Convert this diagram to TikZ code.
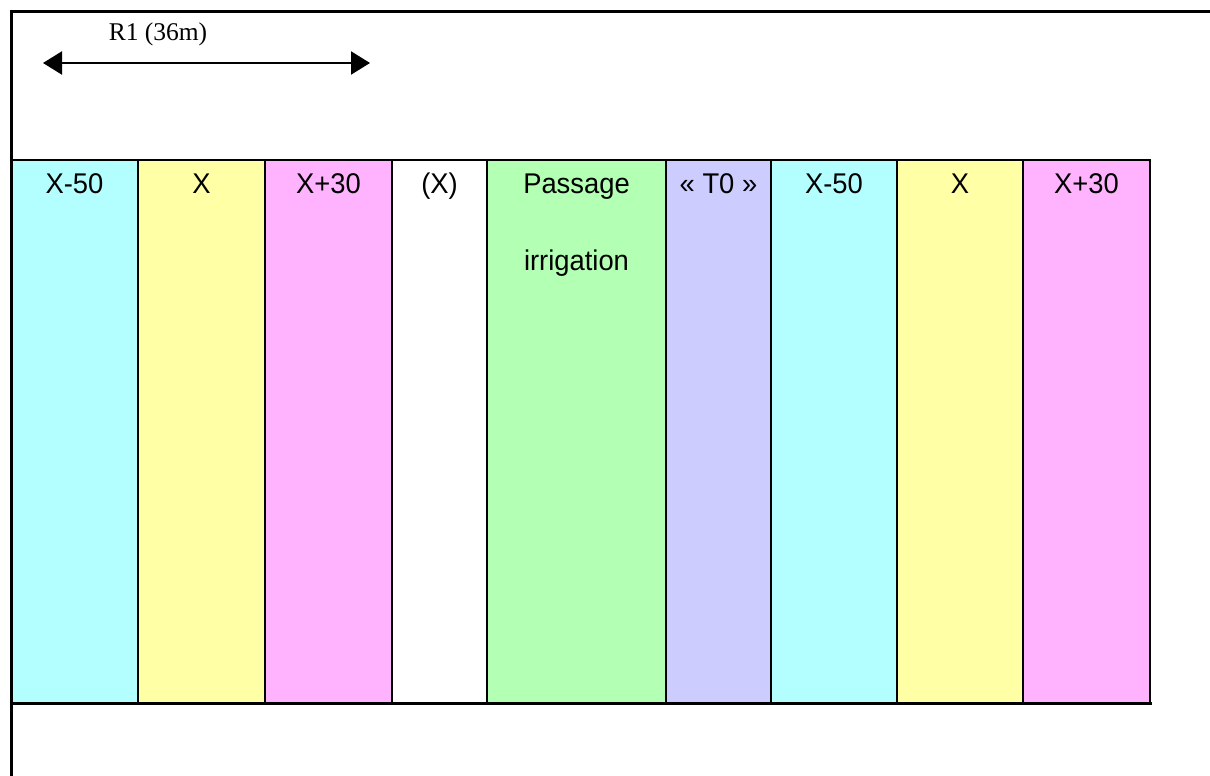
\documentclass[tikz,border=0pt]{standalone}
\usepackage{fontspec}
\setmainfont{Liberation Serif}
\newfontfamily\colfont{Liberation Sans}
\usetikzlibrary{arrows.meta}
\definecolor{ccyan}{HTML}{B3FFFF}
\definecolor{cyel}{HTML}{FFFFA6}
\definecolor{cpink}{HTML}{FFB3FF}
\definecolor{cgreen}{HTML}{B3FFB3}
\definecolor{clav}{HTML}{CCCCFF}
\tikzset{
  colbox/.style={draw=black, line width=1.3pt},
  collabel/.style={font=\colfont\fontsize{28.5}{30}\selectfont, anchor=base, inner sep=0pt, xscale=0.96},
  frameline/.style={line width=3pt, line cap=rect},
}
\begin{document}
\begin{tikzpicture}[x=1pt,y=-1pt]
\useasboundingbox (0,0) rectangle (1210,776);
% columns
\foreach \a/\b/\c/\n in {11/138/ccyan/c1, 138/265/cyel/c2, 265/392/cpink/c3, 392/487/white/c4, 487/666/cgreen/c5, 666/771/clav/c6, 771/897/ccyan/c7, 897/1023/cyel/c8, 1023/1150/cpink/c9}{
  \filldraw[colbox, fill=\c] (\a,160) rectangle (\b,703);
}
\node[collabel] (l1) at (74.5,193) {X-50};
\node[collabel] (l2) at (201.5,193) {X};
\node[collabel] (l3) at (328.5,193) {X+30};
\node[collabel] (l4) at (439.5,193) {(X)};
\node[collabel] (l5) at (576.5,193) {Passage};
\node[collabel] (l5b) at (576.5,270) {irrigation};
\node[collabel] (l6) at (718.5,193) {« T0 »};
\node[collabel] (l7) at (834,193) {X-50};
\node[collabel] (l8) at (960,193) {X};
\node[collabel] (l9) at (1086.5,193) {X+30};
% frame
\draw[frameline] (11,776) -- (11,12) -- (1212,12);
\draw[frameline] (11,703) -- (1150,703);
% arrow
\coordinate (aL) at (43,63);
\coordinate (aR) at (370,63);
\draw[line width=2.2pt, {Triangle[length=19pt,width=23pt]}-{Triangle[length=19pt,width=23pt]}] (aL) -- (aR);
\node[font=\fontsize{25.5}{28}\selectfont, anchor=base, inner sep=0pt] (r1) at (158,41) {R1 (36m)};
\end{tikzpicture}
\end{document}
